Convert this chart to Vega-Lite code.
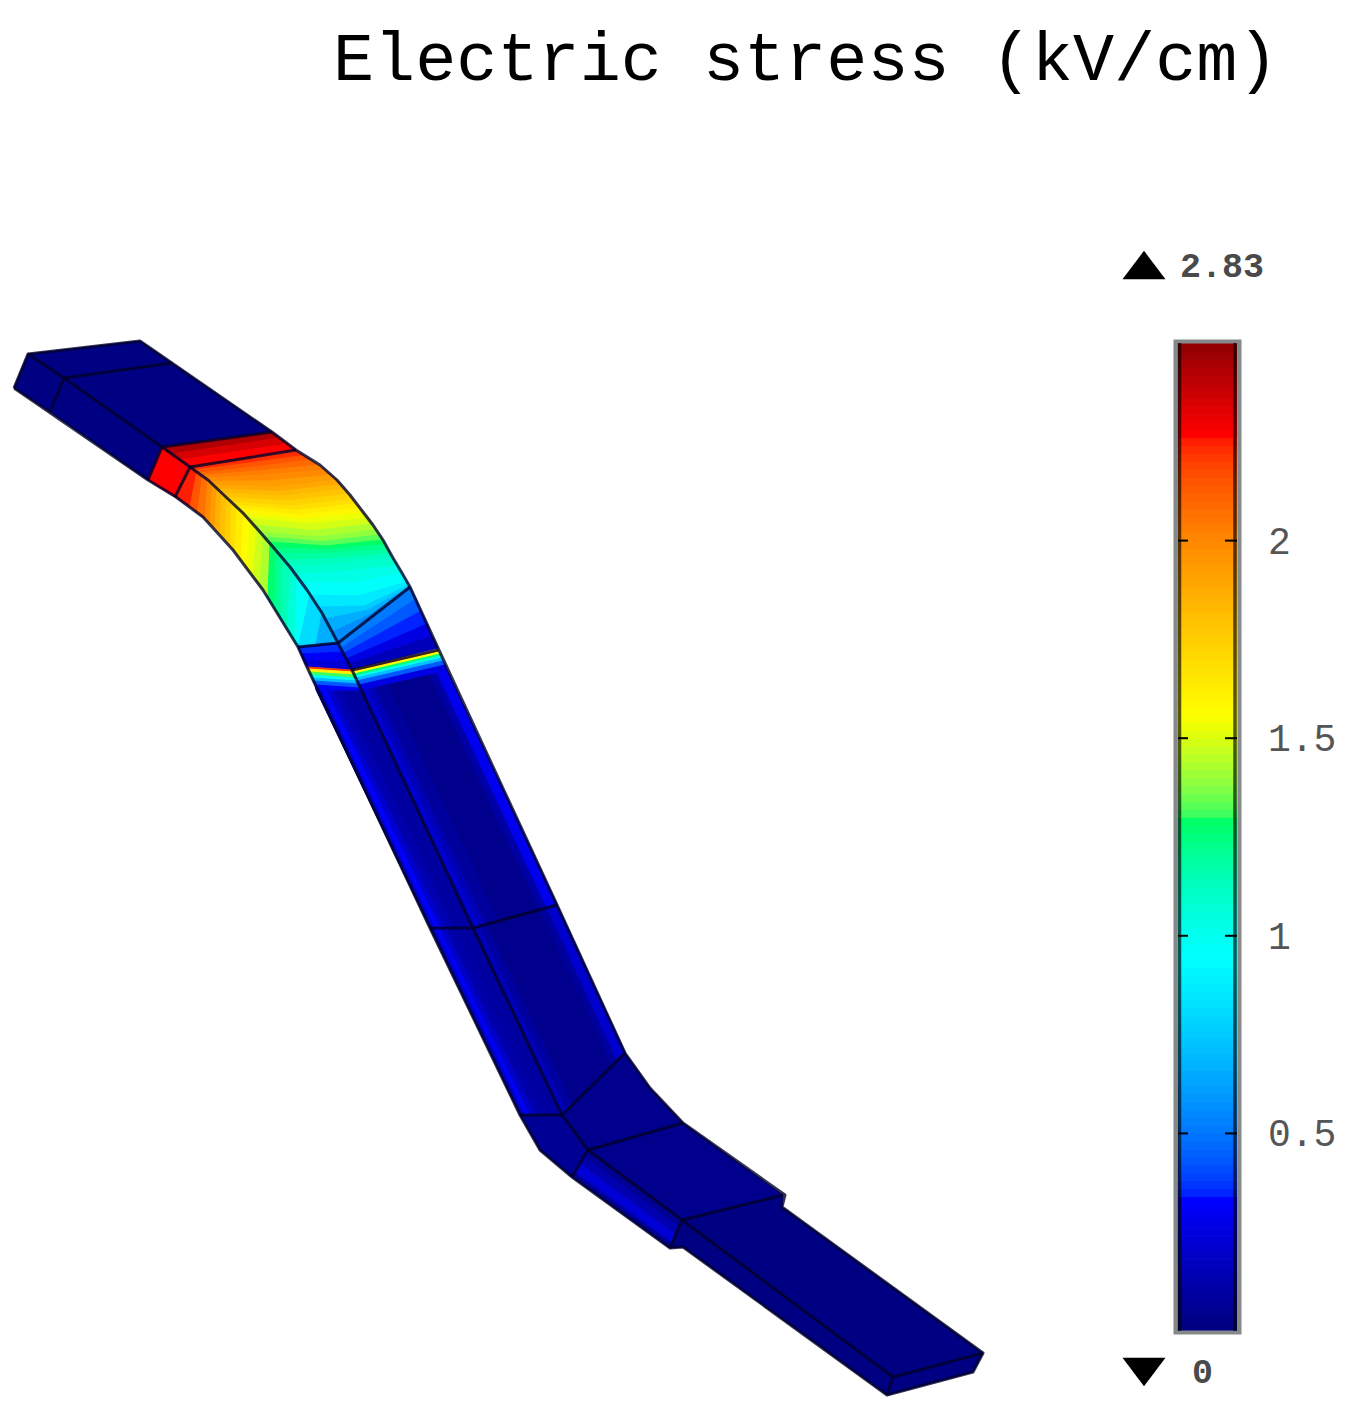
{
"$schema":"https://vega.github.io/schema/vega-lite/v6.json",
"description":"Electric stress on a bent conductor, surface colour in kV/cm.",
"width":1356,"height":1410,"padding":0,"autosize":{"type":"none"},
"background":"white",
"config":{"view":{"stroke":null}},
"datasets":{
"faces":[
{"v":0,"geo":{"type":"Polygon","coordinates":[[[14,388],[28,354],[64,378],[50,412],[14,388]]]}},
{"v":0,"geo":{"type":"Polygon","coordinates":[[[28,354],[140,341],[172,363],[64,378],[28,354]]]}},
{"v":0,"geo":{"type":"Polygon","coordinates":[[[64,378],[172,363],[272,432],[162,447],[64,378]]]}},
{"v":0,"geo":{"type":"Polygon","coordinates":[[[50,412],[64,378],[162,447],[148,480],[50,412]]]}},
{"v":2.26,"geo":{"type":"Polygon","coordinates":[[[148,480],[162,447],[190,467],[175,497],[148,480]]]}},
{"v":2.42,"geo":{"type":"Polygon","coordinates":[[[162,447],[272,432],[280,438],[171,454],[162,447]]]}},
{"v":2.34,"geo":{"type":"Polygon","coordinates":[[[171,454],[280,438],[288,444],[180,460],[171,454]]]}},
{"v":2.26,"geo":{"type":"Polygon","coordinates":[[[180,460],[288,444],[296,450],[190,467],[180,460]]]}},
{"v":2.22,"geo":{"type":"Polygon","coordinates":[[[190,467],[245,459],[297,451],[304,455.5],[249.5,463],[194.5,470],[190,467]]]}},
{"v":2.14,"geo":{"type":"Polygon","coordinates":[[[194.5,470],[249.5,463],[304,455.5],[311,460],[254,467],[199,473],[194.5,470]]]}},
{"v":2.08,"geo":{"type":"Polygon","coordinates":[[[199,473],[254,467],[311,460],[318,465],[258.5,471],[202,475.5],[199,473]]]}},
{"v":2.02,"geo":{"type":"Polygon","coordinates":[[[202,475.5],[258.5,471],[318,465],[325,470],[263,475],[205,478],[202,475.5]]]}},
{"v":1.98,"geo":{"type":"Polygon","coordinates":[[[205,478],[263,475],[325,470],[331,475],[268.5,481],[209,481.5],[205,478]]]}},
{"v":1.92,"geo":{"type":"Polygon","coordinates":[[[209,481.5],[268.5,481],[331,475],[337,480],[274,487],[213,485],[209,481.5]]]}},
{"v":1.88,"geo":{"type":"Polygon","coordinates":[[[213,485],[274,487],[337,480],[341,484.5],[278.5,491.5],[217.5,489],[213,485]]]}},
{"v":1.82,"geo":{"type":"Polygon","coordinates":[[[217.5,489],[278.5,491.5],[341,484.5],[345,489],[283,496],[222,493],[217.5,489]]]}},
{"v":1.78,"geo":{"type":"Polygon","coordinates":[[[222,493],[283,496],[345,489],[349,494],[287.5,501],[226.5,497.5],[222,493]]]}},
{"v":1.72,"geo":{"type":"Polygon","coordinates":[[[226.5,497.5],[287.5,501],[349,494],[353,499],[292,506],[231,502],[226.5,497.5]]]}},
{"v":1.68,"geo":{"type":"Polygon","coordinates":[[[231,502],[292,506],[353,499],[356.5,503.5],[296,510.5],[235,505.5],[231,502]]]}},
{"v":1.62,"geo":{"type":"Polygon","coordinates":[[[235,505.5],[296,510.5],[356.5,503.5],[360,508],[300,515],[239,509],[235,505.5]]]}},
{"v":1.58,"geo":{"type":"Polygon","coordinates":[[[239,509],[300,515],[360,508],[364,513],[304,519.5],[243.5,513.5],[239,509]]]}},
{"v":1.52,"geo":{"type":"Polygon","coordinates":[[[243.5,513.5],[304,519.5],[364,513],[368,518],[308,524],[248,518],[243.5,513.5]]]}},
{"v":1.48,"geo":{"type":"Polygon","coordinates":[[[248,518],[308,524],[368,518],[372,524],[313,530.5],[254,525],[248,518]]]}},
{"v":1.42,"geo":{"type":"Polygon","coordinates":[[[254,525],[313,530.5],[372,524],[376,530],[318,537],[260,532],[254,525]]]}},
{"v":1.38,"geo":{"type":"Polygon","coordinates":[[[260,532],[318,537],[376,530],[379.5,535],[322,541.5],[264.5,537],[260,532]]]}},
{"v":1.32,"geo":{"type":"Polygon","coordinates":[[[264.5,537],[322,541.5],[379.5,535],[383,540],[326,546],[269,542],[264.5,537]]]}},
{"v":1.28,"geo":{"type":"Polygon","coordinates":[[[269,542],[326,546],[383,540],[385.5,544.5],[329.5,549.5],[274,548],[269,542]]]}},
{"v":1.22,"geo":{"type":"Polygon","coordinates":[[[274,548],[329.5,549.5],[385.5,544.5],[388,549],[333,553],[279,554],[274,548]]]}},
{"v":1.18,"geo":{"type":"Polygon","coordinates":[[[279,554],[333,553],[388,549],[390.5,553.5],[337.5,558],[284.5,560.5],[279,554]]]}},
{"v":1.12,"geo":{"type":"Polygon","coordinates":[[[284.5,560.5],[337.5,558],[390.5,553.5],[393,558],[342,563],[290,567],[284.5,560.5]]]}},
{"v":1.08,"geo":{"type":"Polygon","coordinates":[[[290,567],[342,563],[393,558],[397.5,565.5],[347,571],[296,574.5],[290,567]]]}},
{"v":1.02,"geo":{"type":"Polygon","coordinates":[[[296,574.5],[347,571],[397.5,565.5],[402,573],[352,583],[302,582],[296,574.5]]]}},
{"v":0.95,"geo":{"type":"Polygon","coordinates":[[[302,582],[352,583],[402,573],[407,582],[358,596],[310,595],[302,582]]]}},
{"v":0.85,"geo":{"type":"Polygon","coordinates":[[[310,595],[358,596],[407,582],[409,585],[364,606],[318,607],[310,595]]]}},
{"v":0.75,"geo":{"type":"Polygon","coordinates":[[[318,607],[364,606],[409,585],[410,587],[368,610],[325,619],[318,607]]]}},
{"v":0.65,"geo":{"type":"Polygon","coordinates":[[[325,619],[368,610],[410,587],[371,614],[332,632],[325,619]]]}},
{"v":0.55,"geo":{"type":"Polygon","coordinates":[[[332,632],[371,614],[410,587],[374,615],[338,643],[332,632]]]}},
{"v":2.24,"geo":{"type":"Polygon","coordinates":[[[190,467],[175,497],[190,507],[197,471],[190,467]]]}},
{"v":2.14,"geo":{"type":"Polygon","coordinates":[[[197,471],[190,507],[197.5,513],[202.5,475.5],[197,471]]]}},
{"v":2.06,"geo":{"type":"Polygon","coordinates":[[[202.5,475.5],[197.5,513],[205,519],[208,480],[202.5,475.5]]]}},
{"v":1.98,"geo":{"type":"Polygon","coordinates":[[[208,480],[205,519],[210,524],[212.5,484],[208,480]]]}},
{"v":1.92,"geo":{"type":"Polygon","coordinates":[[[212.5,484],[210,524],[215,529],[217,488],[212.5,484]]]}},
{"v":1.85,"geo":{"type":"Polygon","coordinates":[[[217,488],[215,529],[220,534.5],[222,493],[217,488]]]}},
{"v":1.79,"geo":{"type":"Polygon","coordinates":[[[222,493],[220,534.5],[225,540],[227,498],[222,493]]]}},
{"v":1.74,"geo":{"type":"Polygon","coordinates":[[[227,498],[225,540],[230,546],[232,502.5],[227,498]]]}},
{"v":1.68,"geo":{"type":"Polygon","coordinates":[[[232,502.5],[230,546],[235,552],[237,507],[232,502.5]]]}},
{"v":1.62,"geo":{"type":"Polygon","coordinates":[[[237,507],[235,552],[241,560.5],[243.5,513.5],[237,507]]]}},
{"v":1.56,"geo":{"type":"Polygon","coordinates":[[[243.5,513.5],[241,560.5],[247,569],[250,520],[243.5,513.5]]]}},
{"v":1.52,"geo":{"type":"Polygon","coordinates":[[[250,520],[247,569],[253.5,577.5],[256.5,527.5],[250,520]]]}},
{"v":1.47,"geo":{"type":"Polygon","coordinates":[[[256.5,527.5],[253.5,577.5],[260,586],[263,535],[256.5,527.5]]]}},
{"v":1.42,"geo":{"type":"Polygon","coordinates":[[[263,535],[260,586],[268,598],[270,543],[263,535]]]}},
{"v":1.27,"geo":{"type":"Polygon","coordinates":[[[270,543],[268,598],[274.5,608.5],[276.5,551],[270,543]]]}},
{"v":1.2,"geo":{"type":"Polygon","coordinates":[[[276.5,551],[274.5,608.5],[281,619],[283,559],[276.5,551]]]}},
{"v":1.13,"geo":{"type":"Polygon","coordinates":[[[283,559],[281,619],[288,630.5],[290,568],[283,559]]]}},
{"v":1.06,"geo":{"type":"Polygon","coordinates":[[[290,568],[288,630.5],[295,642],[297,577],[290,568]]]}},
{"v":0.95,"geo":{"type":"Polygon","coordinates":[[[297,577],[295,642],[298,647],[310,595],[297,577]]]}},
{"v":0.8,"geo":{"type":"Polygon","coordinates":[[[310,595],[298,647],[316,645],[322,613],[310,595]]]}},
{"v":0.65,"geo":{"type":"Polygon","coordinates":[[[322,613],[316,645],[338,643],[322,613]]]}},
{"v":0.35,"geo":{"type":"Polygon","coordinates":[[[298,647],[338,643],[343,652],[301,654],[298,647]]]}},
{"v":0.3,"geo":{"type":"Polygon","coordinates":[[[301,654],[343,652],[347,661],[304,661],[301,654]]]}},
{"v":0.22,"geo":{"type":"Polygon","coordinates":[[[304,661],[347,661],[352,670],[307,667],[304,661]]]}},
{"v":0.5,"geo":{"type":"Polygon","coordinates":[[[338,643],[410,587],[416,599],[341,648],[338,643]]]}},
{"v":0.42,"geo":{"type":"Polygon","coordinates":[[[341,648],[416,599],[421,611],[344,653],[341,648]]]}},
{"v":0.34,"geo":{"type":"Polygon","coordinates":[[[344,653],[421,611],[427,624],[346,659],[344,653]]]}},
{"v":0.25,"geo":{"type":"Polygon","coordinates":[[[346,659],[427,624],[432,636],[349,664],[346,659]]]}},
{"v":0.15,"geo":{"type":"Polygon","coordinates":[[[349,664],[432,636],[438,648],[352,669],[349,664]]]}},
{"v":0.08,"geo":{"type":"Polygon","coordinates":[[[316,690],[361,690],[473,928],[430,928],[316,690]]]}},
{"v":0.03,"geo":{"type":"Polygon","coordinates":[[[361,690],[447,670],[557,905],[473,928],[361,690]]]}},
{"v":0.08,"geo":{"type":"Polygon","coordinates":[[[430,928],[473,928],[562,1115],[520,1115],[430,928]]]}},
{"v":0.03,"geo":{"type":"Polygon","coordinates":[[[473,928],[557,905],[625,1053],[562,1115],[473,928]]]}},
{"v":0.22,"geo":{"type":"Polygon","coordinates":[[[319,690],[322,690],[436,928],[433,928],[319,690]]]}},
{"v":0.32,"geo":{"type":"Polygon","coordinates":[[[322,690],[327,690],[440,928],[436,928],[322,690]]]}},
{"v":0.2,"geo":{"type":"Polygon","coordinates":[[[327,690],[333,690],[446,928],[440,928],[327,690]]]}},
{"v":0.12,"geo":{"type":"Polygon","coordinates":[[[333,690],[341,690],[454,928],[446,928],[333,690]]]}},
{"v":0.2,"geo":{"type":"Polygon","coordinates":[[[433,928],[436,928],[526,1115],[523,1115],[433,928]]]}},
{"v":0.3,"geo":{"type":"Polygon","coordinates":[[[436,928],[440,928],[530,1115],[526,1115],[436,928]]]}},
{"v":0.18,"geo":{"type":"Polygon","coordinates":[[[440,928],[446,928],[536,1115],[530,1115],[440,928]]]}},
{"v":0.11,"geo":{"type":"Polygon","coordinates":[[[446,928],[454,928],[543,1115],[536,1115],[446,928]]]}},
{"v":0.2,"geo":{"type":"Polygon","coordinates":[[[361,690],[368,688],[480,926],[473,928],[361,690]]]}},
{"v":0.14,"geo":{"type":"Polygon","coordinates":[[[368,688],[375,687],[486,924],[480,926],[368,688]]]}},
{"v":0.07,"geo":{"type":"Polygon","coordinates":[[[375,687],[387,684],[498,921],[486,924],[375,687]]]}},
{"v":0.1,"geo":{"type":"Polygon","coordinates":[[[430,674],[437,672],[547,908],[540,910],[430,674]]]}},
{"v":0.28,"geo":{"type":"Polygon","coordinates":[[[437,672],[447,670],[557,905],[547,908],[437,672]]]}},
{"v":0.14,"geo":{"type":"Polygon","coordinates":[[[473,928],[480,926],[567,1110],[562,1115],[473,928]]]}},
{"v":0.08,"geo":{"type":"Polygon","coordinates":[[[480,926],[486,924],[572,1105],[567,1110],[480,926]]]}},
{"v":0.07,"geo":{"type":"Polygon","coordinates":[[[540,910],[547,908],[617,1060],[612,1065],[540,910]]]}},
{"v":0.2,"geo":{"type":"Polygon","coordinates":[[[547,908],[557,905],[625,1053],[617,1060],[547,908]]]}},
{"v":2.2,"geo":{"type":"Polygon","coordinates":[[[307,667],[352,670],[353,672],[308,669],[307,667]]]}},
{"v":1.6,"geo":{"type":"Polygon","coordinates":[[[308,669],[353,672],[354,675],[309,672],[308,669]]]}},
{"v":1.3,"geo":{"type":"Polygon","coordinates":[[[309,672],[354,675],[355,678],[310,675],[309,672]]]}},
{"v":1.0,"geo":{"type":"Polygon","coordinates":[[[310,675],[355,678],[357,681],[312,678],[310,675]]]}},
{"v":0.7,"geo":{"type":"Polygon","coordinates":[[[312,678],[357,681],[358,684],[313,681],[312,678]]]}},
{"v":0.42,"geo":{"type":"Polygon","coordinates":[[[313,681],[358,684],[360,688],[315,685],[313,681]]]}},
{"v":0.3,"geo":{"type":"Polygon","coordinates":[[[315,685],[360,688],[361,690],[316,690],[315,685]]]}},
{"v":1.9,"geo":{"type":"Polygon","coordinates":[[[352,670],[438,650],[439,652],[353,672],[352,670]]]}},
{"v":1.55,"geo":{"type":"Polygon","coordinates":[[[353,672],[439,652],[440,654],[354,674],[353,672]]]}},
{"v":1.25,"geo":{"type":"Polygon","coordinates":[[[354,674],[440,654],[441,656],[355,676],[354,674]]]}},
{"v":1.0,"geo":{"type":"Polygon","coordinates":[[[355,676],[441,656],[442,658],[356,678],[355,676]]]}},
{"v":0.7,"geo":{"type":"Polygon","coordinates":[[[356,678],[442,658],[443,661],[357,681],[356,678]]]}},
{"v":0.42,"geo":{"type":"Polygon","coordinates":[[[357,681],[443,661],[445,665],[359,685],[357,681]]]}},
{"v":0.25,"geo":{"type":"Polygon","coordinates":[[[359,685],[445,665],[447,670],[361,690],[359,685]]]}},
{"v":0.05,"geo":{"type":"Polygon","coordinates":[[[520,1115],[562,1115],[588,1150],[572,1177],[540,1150],[520,1115]]]}},
{"v":0.03,"geo":{"type":"Polygon","coordinates":[[[562,1115],[625,1053],[650,1088],[683,1123],[588,1150],[562,1115]]]}},
{"v":0.05,"geo":{"type":"Polygon","coordinates":[[[572,1177],[588,1150],[682,1220],[670,1248],[572,1177]]]}},
{"v":0.22,"geo":{"type":"Polygon","coordinates":[[[575,1172],[580,1163],[676,1234],[672,1242],[575,1172]]]}},
{"v":0.12,"geo":{"type":"Polygon","coordinates":[[[580,1163],[584,1157],[679,1227],[676,1234],[580,1163]]]}},
{"v":0.03,"geo":{"type":"Polygon","coordinates":[[[588,1150],[683,1123],[783,1195],[682,1220],[588,1150]]]}},
{"v":0,"geo":{"type":"Polygon","coordinates":[[[682,1220],[783,1195],[782,1207],[983,1353],[893,1377],[682,1220]]]}},
{"v":0,"geo":{"type":"Polygon","coordinates":[[[670,1248],[682,1220],[893,1377],[887,1395],[683,1247],[670,1248]]]}},
{"v":0,"geo":{"type":"Polygon","coordinates":[[[893,1377],[983,1353],[973,1372],[887,1395],[893,1377]]]}}
],
"edges":[
{"geo":{"type":"LineString","coordinates":[[28,354],[64,378],[162,447],[190,467],[208,480],[227,498],[243,513],[260,532],[273,547],[290,567],[307,590],[322,613],[338,643],[352,670],[473,928],[562,1115],[588,1150],[682,1220],[893,1377]]}},
{"geo":{"type":"LineString","coordinates":[[172,363],[64,378],[50,412]]}},
{"geo":{"type":"LineString","coordinates":[[272,432],[162,447],[148,480]]}},
{"geo":{"type":"LineString","coordinates":[[296,450],[190,467],[175,497]]}},
{"geo":{"type":"LineString","coordinates":[[410,587],[338,643],[298,647]]}},
{"geo":{"type":"LineString","coordinates":[[352,670],[438,650]]}},
{"geo":{"type":"LineString","coordinates":[[557,905],[473,928],[430,928]]}},
{"geo":{"type":"LineString","coordinates":[[625,1053],[562,1115],[520,1115]]}},
{"geo":{"type":"LineString","coordinates":[[683,1123],[588,1150],[572,1177]]}},
{"geo":{"type":"LineString","coordinates":[[783,1195],[682,1220],[670,1248]]}},
{"geo":{"type":"LineString","coordinates":[[983,1353],[893,1377],[887,1395]]}},
{"geo":{"type":"LineString","coordinates":[[14,388],[28,354],[140,341],[272,432],[296,450],[320,465],[337,480],[350,495],[363,512],[373,525],[383,540],[393,558],[402,573],[410,587],[438,648],[557,905],[625,1053],[650,1088],[683,1123],[785,1195],[782,1207],[983,1353],[973,1372],[887,1395],[683,1247],[670,1248],[572,1177],[540,1150],[520,1115],[430,928],[307,667],[298,647],[263,590],[233,550],[203,517],[176,497],[148,480],[14,388]]}}
],
"bar":[
{"v":0,"v2":0.02},{"v":0.02,"v2":0.04},{"v":0.04,"v2":0.06},{"v":0.06,"v2":0.08},{"v":0.08,"v2":0.1},
{"v":0.1,"v2":0.12},{"v":0.12,"v2":0.14},{"v":0.14,"v2":0.16},{"v":0.16,"v2":0.18},{"v":0.18,"v2":0.2},
{"v":0.2,"v2":0.22},{"v":0.22,"v2":0.24},{"v":0.24,"v2":0.26},{"v":0.26,"v2":0.28},{"v":0.28,"v2":0.3},
{"v":0.3,"v2":0.32},{"v":0.32,"v2":0.34},{"v":0.34,"v2":0.36},{"v":0.36,"v2":0.38},{"v":0.38,"v2":0.4},
{"v":0.4,"v2":0.42},{"v":0.42,"v2":0.44},{"v":0.44,"v2":0.46},{"v":0.46,"v2":0.48},{"v":0.48,"v2":0.5},
{"v":0.5,"v2":0.52},{"v":0.52,"v2":0.54},{"v":0.54,"v2":0.56},{"v":0.56,"v2":0.58},{"v":0.58,"v2":0.6},
{"v":0.6,"v2":0.62},{"v":0.62,"v2":0.64},{"v":0.64,"v2":0.66},{"v":0.66,"v2":0.68},{"v":0.68,"v2":0.7},
{"v":0.7,"v2":0.72},{"v":0.72,"v2":0.74},{"v":0.74,"v2":0.76},{"v":0.76,"v2":0.78},{"v":0.78,"v2":0.8},
{"v":0.8,"v2":0.82},{"v":0.82,"v2":0.84},{"v":0.84,"v2":0.86},{"v":0.86,"v2":0.88},{"v":0.88,"v2":0.9},
{"v":0.9,"v2":0.92},{"v":0.92,"v2":0.94},{"v":0.94,"v2":0.96},{"v":0.96,"v2":0.98},{"v":0.98,"v2":1},
{"v":1,"v2":1.02},{"v":1.02,"v2":1.04},{"v":1.04,"v2":1.06},{"v":1.06,"v2":1.08},{"v":1.08,"v2":1.1},
{"v":1.1,"v2":1.12},{"v":1.12,"v2":1.14},{"v":1.14,"v2":1.16},{"v":1.16,"v2":1.18},{"v":1.18,"v2":1.2},
{"v":1.2,"v2":1.22},{"v":1.22,"v2":1.24},{"v":1.24,"v2":1.26},{"v":1.26,"v2":1.28},{"v":1.28,"v2":1.3},
{"v":1.3,"v2":1.32},{"v":1.32,"v2":1.34},{"v":1.34,"v2":1.36},{"v":1.36,"v2":1.38},{"v":1.38,"v2":1.4},
{"v":1.4,"v2":1.42},{"v":1.42,"v2":1.44},{"v":1.44,"v2":1.46},{"v":1.46,"v2":1.48},{"v":1.48,"v2":1.5},
{"v":1.5,"v2":1.52},{"v":1.52,"v2":1.54},{"v":1.54,"v2":1.56},{"v":1.56,"v2":1.58},{"v":1.58,"v2":1.6},
{"v":1.6,"v2":1.62},{"v":1.62,"v2":1.64},{"v":1.64,"v2":1.66},{"v":1.66,"v2":1.68},{"v":1.68,"v2":1.7},
{"v":1.7,"v2":1.72},{"v":1.72,"v2":1.74},{"v":1.74,"v2":1.76},{"v":1.76,"v2":1.78},{"v":1.78,"v2":1.8},
{"v":1.8,"v2":1.82},{"v":1.82,"v2":1.84},{"v":1.84,"v2":1.86},{"v":1.86,"v2":1.88},{"v":1.88,"v2":1.9},
{"v":1.9,"v2":1.92},{"v":1.92,"v2":1.94},{"v":1.94,"v2":1.96},{"v":1.96,"v2":1.98},{"v":1.98,"v2":2},
{"v":2,"v2":2.02},{"v":2.02,"v2":2.04},{"v":2.04,"v2":2.06},{"v":2.06,"v2":2.08},{"v":2.08,"v2":2.1},
{"v":2.1,"v2":2.12},{"v":2.12,"v2":2.14},{"v":2.14,"v2":2.16},{"v":2.16,"v2":2.18},{"v":2.18,"v2":2.2},
{"v":2.2,"v2":2.22},{"v":2.22,"v2":2.24},{"v":2.24,"v2":2.26},{"v":2.26,"v2":2.28},{"v":2.28,"v2":2.3},
{"v":2.3,"v2":2.32},{"v":2.32,"v2":2.34},{"v":2.34,"v2":2.36},{"v":2.36,"v2":2.38},{"v":2.38,"v2":2.4},
{"v":2.4,"v2":2.42},{"v":2.42,"v2":2.44},{"v":2.44,"v2":2.46},{"v":2.46,"v2":2.48},{"v":2.48,"v2":2.5}
]
},
"resolve":{"scale":{"y":"independent"}},
"layer":[
{"data":{"name":"faces"},
 "projection":{"type":"identity","scale":1,"translate":[0,0]},
 "mark":{"type":"geoshape","filled":true,"strokeWidth":1},
 "encoding":{
  "shape":{"field":"geo","type":"geojson"},
  "color":{"field":"v","type":"quantitative","legend":null,
   "scale":{"domain":[0,0.32,0.93,1.28,1.55,2.26,2.5],"range":["#000082","#0000ff","#00ffff","#00ff66","#ffff00","#ff0000","#8b0000"]}},
  "stroke":{"field":"v","type":"quantitative","legend":null,
   "scale":{"domain":[0,0.32,0.93,1.28,1.55,2.26,2.5],"range":["#000082","#0000ff","#00ffff","#00ff66","#ffff00","#ff0000","#8b0000"]}}
 }},
{"data":{"name":"edges"},
 "projection":{"type":"identity","scale":1,"translate":[0,0]},
 "mark":{"type":"geoshape","filled":false,"stroke":"#00002a","strokeWidth":3,"strokeOpacity":0.8,"strokeJoin":"round"},
 "encoding":{"shape":{"field":"geo","type":"geojson"}}},
{"data":{"name":"bar"},
 "mark":{"type":"rect","strokeWidth":1},
 "encoding":{
  "x":{"datum":1178,"type":"quantitative","scale":{"domain":[0,1356]},"axis":null},
  "x2":{"datum":1237},
  "y":{"field":"v","type":"quantitative","scale":{"domain":[0,2.5],"range":[1331,343]},"axis":null},
  "y2":{"field":"v2"},
  "color":{"field":"v","type":"quantitative","legend":null,
   "scale":{"domain":[0,0.32,0.93,1.28,1.55,2.26,2.5],"range":["#000082","#0000ff","#00ffff","#00ff66","#ffff00","#ff0000","#8b0000"]}},
  "stroke":{"field":"v","type":"quantitative","legend":null,
   "scale":{"domain":[0,0.32,0.93,1.28,1.55,2.26,2.5],"range":["#000082","#0000ff","#00ffff","#00ff66","#ffff00","#ff0000","#8b0000"]}}
 }},
{"data":{"values":[{"x":1175.5,"x2":1239.5,"y":341.5,"y2":1332.5}]},
 "mark":{"type":"rect","filled":false,"stroke":"#85898a","strokeWidth":4},
 "encoding":{
  "x":{"field":"x","type":"quantitative","scale":{"domain":[0,1356]},"axis":null},
  "x2":{"field":"x2"},
  "y":{"field":"y","type":"quantitative","scale":{"domain":[1410,0]},"axis":null},
  "y2":{"field":"y2"}}},
{"data":{"values":[{"x":1179.5,"y":343,"y2":1331},{"x":1235,"y":343,"y2":1331}]},
 "mark":{"type":"rule","stroke":"#000000","strokeWidth":3.5,"strokeOpacity":0.65},
 "encoding":{
  "x":{"field":"x","type":"quantitative","scale":{"domain":[0,1356]},"axis":null},
  "y":{"field":"y","type":"quantitative","scale":{"domain":[1410,0]},"axis":null},
  "y2":{"field":"y2"}}},
{"data":{"values":[
  {"v":0.5,"a":1178,"b":1188},{"v":1,"a":1178,"b":1188},{"v":1.5,"a":1178,"b":1188},{"v":2,"a":1178,"b":1188},
  {"v":0.5,"a":1225,"b":1237},{"v":1,"a":1225,"b":1237},{"v":1.5,"a":1225,"b":1237},{"v":2,"a":1225,"b":1237}]},
 "mark":{"type":"rule","stroke":"#000000","strokeWidth":2},
 "encoding":{
  "x":{"field":"a","type":"quantitative","scale":{"domain":[0,1356]},"axis":null},
  "x2":{"field":"b"},
  "y":{"field":"v","type":"quantitative","scale":{"domain":[0,2.5],"range":[1331,343]},"axis":null}}},
{"data":{"values":[{"v":0.5,"label":"0.5"},{"v":1,"label":"1"},{"v":1.5,"label":"1.5"},{"v":2,"label":"2"}]},
 "mark":{"type":"text","font":"Liberation Mono","fontSize":38,"fill":"#555555","align":"left","baseline":"middle","dy":2},
 "encoding":{
  "x":{"datum":1268,"type":"quantitative","scale":{"domain":[0,1356]},"axis":null},
  "y":{"field":"v","type":"quantitative","scale":{"domain":[0,2.5],"range":[1331,343]},"axis":null},
  "text":{"field":"label"}}},
{"data":{"values":[{"x":1144,"y":265}]},
 "mark":{"type":"point","filled":true,"fill":"#000000","stroke":null,"opacity":1,"size":1849,"shape":"M-1,0.66L1,0.66L0,-0.66Z"},
 "encoding":{
  "x":{"field":"x","type":"quantitative","scale":{"domain":[0,1356]},"axis":null},
  "y":{"field":"y","type":"quantitative","scale":{"domain":[1410,0]},"axis":null}}},
{"data":{"values":[{"x":1144,"y":1372}]},
 "mark":{"type":"point","filled":true,"fill":"#000000","stroke":null,"opacity":1,"size":1849,"shape":"M-1,-0.66L1,-0.66L0,0.66Z"},
 "encoding":{
  "x":{"field":"x","type":"quantitative","scale":{"domain":[0,1356]},"axis":null},
  "y":{"field":"y","type":"quantitative","scale":{"domain":[1410,0]},"axis":null}}},
{"data":{"values":[{"x":1180,"y":266,"label":"2.83"},{"x":1192,"y":1372,"label":"0"}]},
 "mark":{"type":"text","font":"Liberation Mono","fontSize":35,"fontWeight":"bold","fill":"#4a4a4a","align":"left","baseline":"middle"},
 "encoding":{
  "x":{"field":"x","type":"quantitative","scale":{"domain":[0,1356]},"axis":null},
  "y":{"field":"y","type":"quantitative","scale":{"domain":[1410,0]},"axis":null},
  "text":{"field":"label"}}},
{"data":{"values":[{"x":333,"y":80,"label":"Electric stress (kV/cm)"}]},
 "mark":{"type":"text","font":"Liberation Mono","fontSize":68.5,"fill":"#000000","align":"left","baseline":"alphabetic"},
 "encoding":{
  "x":{"field":"x","type":"quantitative","scale":{"domain":[0,1356]},"axis":null},
  "y":{"field":"y","type":"quantitative","scale":{"domain":[1410,0]},"axis":null},
  "text":{"field":"label"}}}
]
}
